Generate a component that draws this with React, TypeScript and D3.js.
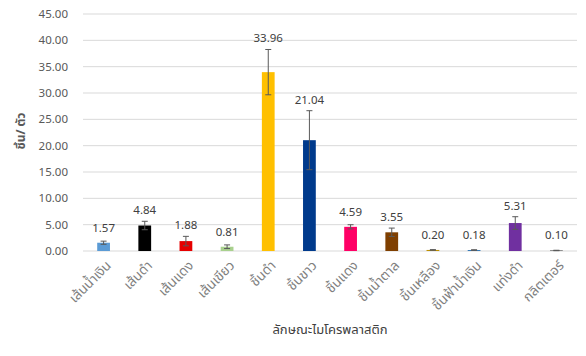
import React from "react";
import * as d3 from "d3";

const categories = ["เส้นน้ำเงิน", "เส้นดำ", "เส้นแดง", "เส้นเขียว", "ชิ้นดำ", "ชิ้นขาว", "ชิ้นแดง", "ชิ้นน้ำตาล", "ชิ้นเหลือง", "ชิ้นฟ้าน้ำเงิน", "แท่งดำ", "กลิตเตอร์"];
const values = [1.57, 4.84, 1.88, 0.81, 33.96, 21.04, 4.59, 3.55, 0.2, 0.18, 5.31, 0.1];
const errors = [0.3, 0.8, 0.9, 0.35, 4.3, 5.6, 0.4, 0.8, 0.06, 0.06, 1.2, 0.04];
const colors = ["#5B9BD5", "#000000", "#E60000", "#A9D18E", "#FFC000", "#003A8C", "#FF0066", "#7F3F00", "#BF9000", "#2E75B6", "#7030A0", "#404040"];
const yTicks = [0, 5, 10, 15, 20, 25, 30, 35, 40, 45];

export default function App() {
  const W = 586, H = 356;
  const left = 83, right = 577, top = 14, bottom = 251;
  const x = d3.scaleBand<string>().domain(categories).range([left, right]).paddingInner(0.69).paddingOuter(0.345);
  const y = d3.scaleLinear().domain([0, 45]).range([bottom, top]);
  const font = "'Noto Sans Thai', 'Noto Sans', 'Liberation Sans', sans-serif";
  return (
    <svg width={W} height={H} style={{ position: "absolute", left: 0, top: 0, background: "#fff" }} fontFamily={font}>
      {yTicks.map((t) => (
        <g key={t}>
          <line x1={left} x2={right} y1={y(t)} y2={y(t)} stroke="#D9D9D9" strokeWidth={1} />
          <text x={68} y={y(t)} dy="0.35em" textAnchor="end" fontSize={11.5} fill="#595959">{t.toFixed(2)}</text>
        </g>
      ))}
      {categories.map((c, i) => {
        const bx = x(c)!;
        const cx = bx + x.bandwidth() / 2;
        const v = values[i], e = errors[i];
        const yTop = y(v + e), yBot = y(Math.max(0, v - e));
        const labelY = Math.min(yTop, y(v) - 4) - 7;
        return (
          <g key={c}>
            <rect x={bx} y={y(v)} width={x.bandwidth()} height={bottom - y(v)} fill={colors[i]} />
            <line x1={cx} x2={cx} y1={yTop} y2={yBot} stroke="#595959" strokeWidth={1} />
            <line x1={cx - 3} x2={cx + 3} y1={yTop} y2={yTop} stroke="#595959" strokeWidth={1} />
            <line x1={cx - 3} x2={cx + 3} y1={yBot} y2={yBot} stroke="#595959" strokeWidth={1} />
            <text x={cx} y={labelY} textAnchor="middle" fontSize={11.5} fill="#404040">{v.toFixed(2)}</text>
            <text transform={`translate(${cx + 5},${bottom + 12}) rotate(-45)`} textAnchor="end" fontSize={13.5} fill="#7F7F7F" dy="0.35em">{c}</text>
          </g>
        );
      })}
      <text transform={`translate(25,${131}) rotate(-90)`} textAnchor="middle" fontSize={12} fontWeight="bold" fill="#595959">ชิ้น/ ตัว</text>
      <text x={(left + right) / 2} y={334} textAnchor="middle" fontSize={13} fill="#404040">ลักษณะไมโครพลาสติก</text>
    </svg>
  );
}
